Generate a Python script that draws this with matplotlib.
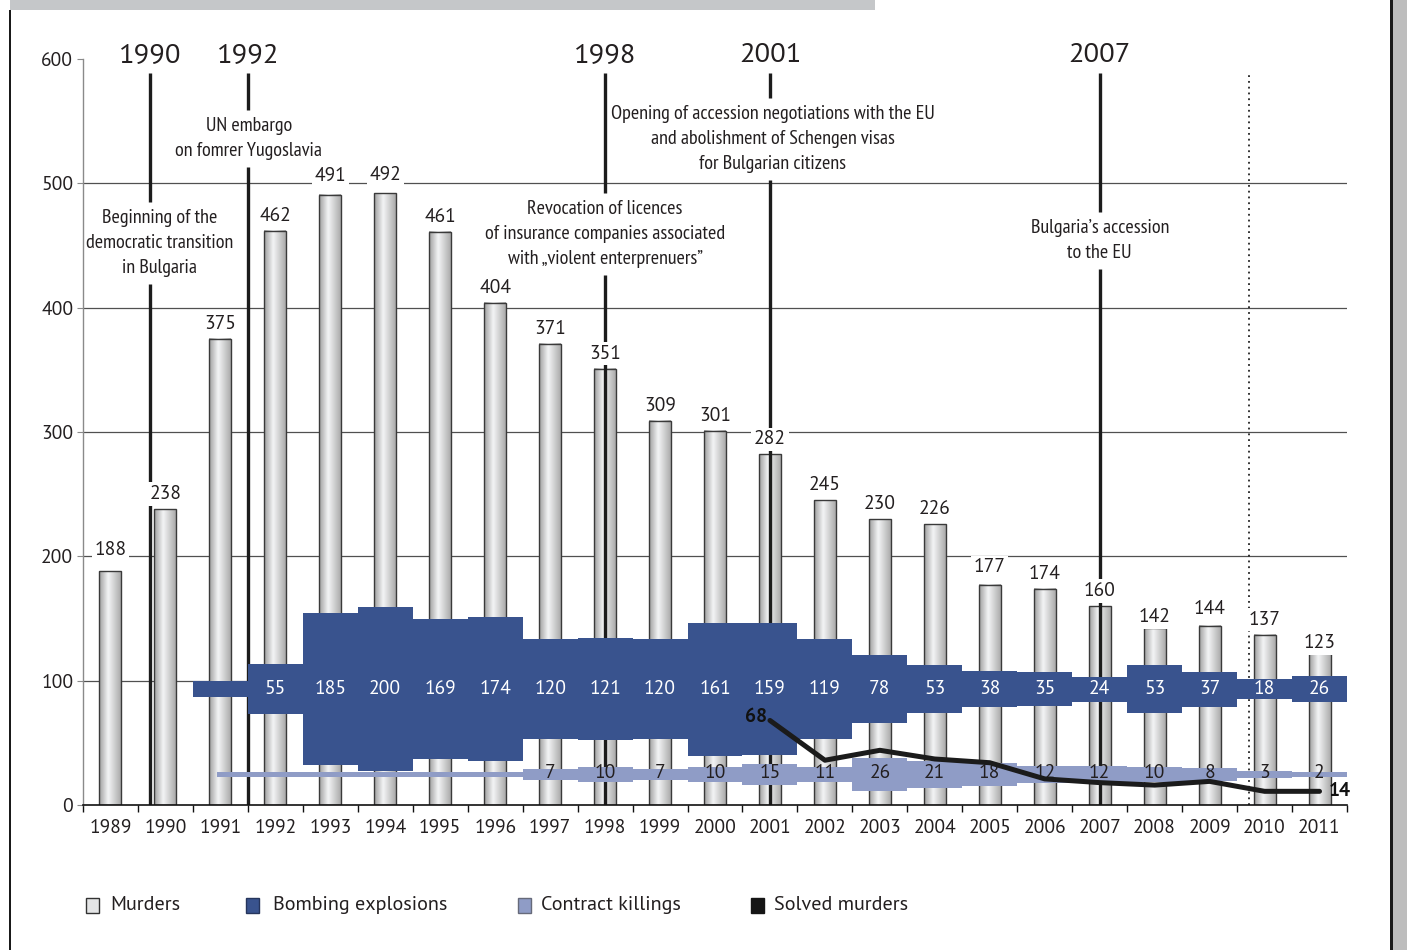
import numpy as np
import matplotlib
matplotlib.use("Agg")
import matplotlib.pyplot as plt
from matplotlib.colors import LinearSegmentedColormap
from matplotlib.patches import Rectangle

# ---- data ----
years = list(range(1989, 2012))
murders = [188, 238, 375, 462, 491, 492, 461, 404, 371, 351, 309, 301,
           282, 245, 230, 226, 177, 174, 160, 142, 144, 137, 123]

bomb_years = list(range(1991, 2012))
bombings = [13, 55, 185, 200, 169, 174, 120, 121, 120, 161, 159,
            119, 78, 53, 38, 35, 24, 53, 37, 18, 26]
bomb_first_label = 1992          # the 1991 strip carries no number

contract_years = list(range(1991, 2012))
contract = [2, 2, 2, 2, 2, 2, 7, 10, 7, 10, 15,
            11, 26, 21, 18, 12, 12, 10, 8, 3, 2]
contract_first_label = 1997

solved_years = list(range(2001, 2012))
solved = [68, 36, 44, 37, 34, 21, 18, 16, 19, 11, 11]
solved_end_labels = ["68", "14"]

event_years = [1990, 1992, 1998, 2001, 2007]
event_texts = [
    "Beginning of the\ndemocratic transition\nin Bulgaria",
    "UN embargo\non fomrer Yugoslavia",
    "Revocation of licences\nof insurance companies associated\nwith \u201eviolent enterprenuers\u201d",
    "Opening of accession negotiations with the EU\nand abolishment of Schengen visas\nfor Bulgarian citizens",
    "Bulgaria\u2019s accession\nto the EU",
]
legend_labels = ["Murders", "Bombing explosions", "Contract killings", "Solved murders"]

# ---- style ----
BLUE = "#39538e"
LIGHTBLUE = "#8f9cc6"
INK = "#231f20"
NUM = ["PT Sans", "Open Sans", "DejaVu Sans"]
COND = ["PT Sans Narrow", "Fira Sans Condensed", "IBM Plex Sans Condensed", "DejaVu Sans"]

W, H = 1407, 950
fig = plt.figure(figsize=(W / 100, H / 100), dpi=100)
ax = fig.add_axes([83 / W, 1 - 805 / H, (1347 - 83) / W, (805 - 59) / H])

x = np.arange(len(years))
idx = {y: i for i, y in enumerate(years)}

# cylinder-looking bars for murders
bar_cmap = LinearSegmentedColormap.from_list(
    "cyl", [(0, "#9e9e9e"), (0.42, "#f4f5f6"), (1, "#ababab")])
grad = np.linspace(0, 1, 64).reshape(1, -1)
bars = ax.bar(x, murders, width=0.4, facecolor="none", edgecolor="#3a3a3a",
              linewidth=1.0, zorder=2.1)
for b in bars:
    ax.imshow(grad, cmap=bar_cmap, aspect="auto", interpolation="bicubic",
              extent=[b.get_x(), b.get_x() + b.get_width(), 0, b.get_height()],
              zorder=2)
# a few labels sit a little higher / lower in the original
label_nudge = {1989: 5, 1993: 3, 1994: 3, 2005: 2, 2008: -3, 2009: 2, 2011: -5}
for yr, i, v in zip(years, x, murders):
    ax.text(i, v + 8 + label_nudge.get(yr, 0), str(v), ha="center",
            va="baseline", fontsize=14, family=NUM, color=INK, zorder=8,
            bbox=dict(facecolor="white", edgecolor="none", pad=2.0))

# limits first: the line breaks below are computed in data units
ax.set_xlim(-0.5, len(years) - 0.5)
ax.set_ylim(0, 600)

# event markers
event_dx = {1990: -0.28, 1992: -0.5}
text_dx = {1990: -0.1, 1992: -0.48, 2001: 0.05}
text_y = {1990: 452, 1992: 536, 1998: 459, 2001: 536, 2007: 454}
LINE_TOP = 589
ev_x, ev_txt = [], []
for ey, et in zip(event_years, event_texts):
    ex = idx[ey] + event_dx.get(ey, 0)
    ax.text(ex, 603, str(ey), ha="center", va="center", fontsize=20.5,
            family=NUM, color=INK, clip_on=False, zorder=9)
    t = ax.text(idx[ey] + text_dx.get(ey, 0), text_y[ey], et, ha="center",
                va="center", fontsize=14.5, family=COND, color=INK,
                linespacing=1.5, zorder=9)
    ev_x.append(ex)
    ev_txt.append(t)

# break each event line around its caption
fig.canvas.draw()
rend = fig.canvas.get_renderer()
inv = ax.transData.inverted()
gap_px = 7
for ex, t in zip(ev_x, ev_txt):
    bb = t.get_window_extent(rend)
    lo = inv.transform((0, bb.y0 - gap_px))[1]
    hi = inv.transform((0, bb.y1 + gap_px))[1]
    ax.vlines(ex, 0, lo, color="#1c1c1c", linewidth=2.4, zorder=3)
    ax.vlines(ex, hi, LINE_TOP, color="#1c1c1c", linewidth=2.4, zorder=3)

# dotted separator before 2010
ax.vlines(idx[2010] - 0.28, 0, LINE_TOP, color="#222222", linewidth=1.3,
          linestyles=(0, (1, 2.2)), zorder=3)


def step_band(first_idx, values, mid, scale, base, color, start=None):
    xi = np.arange(len(values)) + first_idx
    xs = np.repeat(xi, 2) + np.tile([-0.5, 0.5], len(xi))
    if start is not None:
        xs[0] = start
    hh = np.repeat([scale * v + base for v in values], 2) / 2
    ax.fill_between(xs, mid - hh, mid + hh, color=color, linewidth=0, zorder=4)


# bombing explosions band
BOMB_MID = 93.2
step_band(idx[bomb_years[0]], bombings, BOMB_MID, 0.635, 4.8, BLUE)
for y, v in zip(bomb_years, bombings):
    if y >= bomb_first_label:
        ax.text(idx[y], BOMB_MID, str(v), ha="center", va="center",
                fontsize=14, family=NUM, color="white", zorder=6)

# contract killings band
CON_MID = 24.5
step_band(idx[contract_years[0]], contract, CON_MID, 0.925, 2.4, LIGHTBLUE,
          start=idx[contract_years[0]] - 0.06)
for y, v in zip(contract_years, contract):
    if y >= contract_first_label:
        ax.text(idx[y], CON_MID + 1, str(v), ha="center", va="center",
                fontsize=14, family=NUM, color=INK, zorder=6)

# solved murders line
sx = [idx[y] for y in solved_years]
ax.plot(sx, solved, color="#1b1b1b", linewidth=3.6, solid_capstyle="round",
        zorder=7)
ax.text(sx[0] - 0.05, solved[0] + 3, solved_end_labels[0], ha="right",
        va="center", fontsize=14, fontweight="bold", family=NUM,
        color="#111", zorder=8)
ax.text(sx[-1] + 0.17, solved[-1], solved_end_labels[1], ha="left",
        va="center", fontsize=14, fontweight="bold", family=NUM,
        color="#111", zorder=8, clip_on=False)

# axes
ax.set_xlim(-0.5, len(years) - 0.5)
ax.set_ylim(0, 600)
for s in ["top", "right"]:
    ax.spines[s].set_visible(False)
ax.spines["left"].set_color("#8a8a8a")
ax.spines["left"].set_linewidth(1.0)
ax.spines["bottom"].set_color("#111111")
ax.spines["bottom"].set_linewidth(1.2)
ax.spines["bottom"].set_zorder(9)

ax.set_yticks(range(0, 601, 100))
ax.tick_params(axis="y", length=4, color="#8a8a8a", labelsize=14,
               labelcolor=INK, pad=3)
for yy in range(100, 501, 100):
    ax.axhline(yy, color="#505050", linewidth=0.9, zorder=1)

ax.set_xticks(x)
ax.set_xticklabels([str(y) for y in years])
ax.set_xticks(np.arange(-0.5, len(years)), minor=True)
ax.tick_params(axis="x", which="major", length=0, labelsize=14,
               labelcolor=INK, pad=10)
ax.tick_params(axis="x", which="minor", length=5, color="#111111", width=1)
for lab in ax.get_xticklabels() + ax.get_yticklabels():
    lab.set_family(NUM)

# page decorations
fig.add_artist(Rectangle((10 / W, 1 - 10 / H), 865 / W, 10 / H,
                         transform=fig.transFigure, facecolor="#c5c7c9",
                         edgecolor="none"))
fig.add_artist(Rectangle((9 / W, 0), 2.5 / W, 1 - 10 / H,
                         transform=fig.transFigure, facecolor="#1a1a1a",
                         edgecolor="none"))
fig.add_artist(Rectangle((1390 / W, 0), 2.5 / W, 1,
                         transform=fig.transFigure, facecolor="#1a1a1a",
                         edgecolor="none"))
fig.add_artist(Rectangle((1392.5 / W, 0), 15 / W, 1,
                         transform=fig.transFigure, facecolor="#bdbdbd",
                         edgecolor="none"))

# legend
leg_faces = ["#e4e5e6", BLUE, LIGHTBLUE, "#151515"]
leg_edges = ["#333333", "#26355c", "#666a7a", "#151515"]
leg_box_x = [86, 246, 518, 751]
leg_txt_x = [110, 273, 541, 774]
for lab, fc, ec, bx, tx in zip(legend_labels, leg_faces, leg_edges,
                               leg_box_x, leg_txt_x):
    fig.add_artist(Rectangle((bx / W, 1 - 913 / H), 13 / W, 15 / H,
                             transform=fig.transFigure, facecolor=fc,
                             edgecolor=ec, linewidth=1))
    fig.text(tx / W, 1 - 905 / H, lab, ha="left", va="center", fontsize=14.5,
             family=NUM, color=INK)

fig.savefig("out.png", dpi=100)
